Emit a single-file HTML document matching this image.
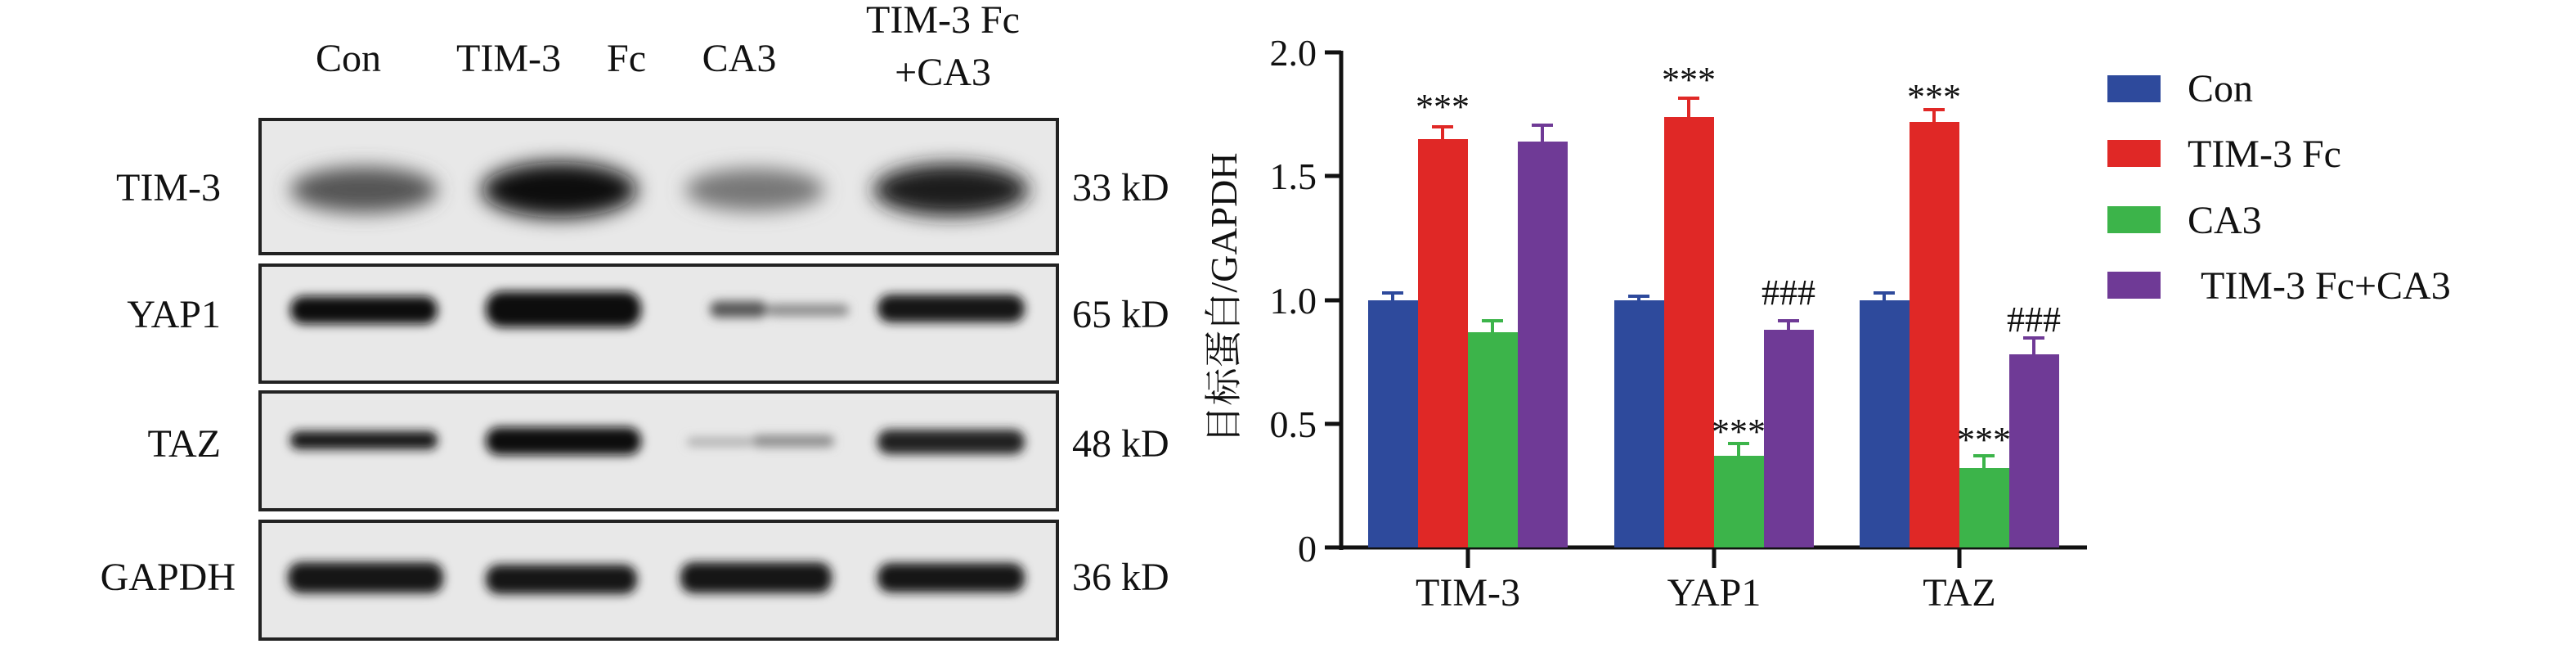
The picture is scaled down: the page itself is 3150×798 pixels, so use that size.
<!DOCTYPE html>
<html><head><meta charset="utf-8"><style>
html,body{margin:0;padding:0;background:#fff;}
svg{display:block;}
text{font-family:"Liberation Serif","Noto Serif CJK SC",serif;fill:#111;}
</style></head><body>
<svg width="3150" height="798" viewBox="0 0 3150 798" xmlns="http://www.w3.org/2000/svg">
<defs>
<filter id="bl" x="-20%" y="-50%" width="140%" height="200%"><feGaussianBlur stdDeviation="6"/></filter>
<filter id="bl2" x="-20%" y="-50%" width="140%" height="200%"><feGaussianBlur stdDeviation="12"/></filter>
</defs>
<g font-size="48" text-anchor="middle">
<text x="426" y="87">Con</text>
<text x="622" y="87">TIM-3</text>
<text x="766" y="87">Fc</text>
<text x="904" y="87">CA3</text>
<text x="1153" y="40">TIM-3 Fc</text>
<text x="1153" y="104">+CA3</text>
</g>
<g font-size="48" text-anchor="end">
<text x="270" y="245">TIM-3</text>
<text x="270" y="400">YAP1</text>
<text x="270" y="558">TAZ</text>
<text x="288" y="721">GAPDH</text>
</g>
<g font-size="48">
<text x="1311" y="245">33 kD</text>
<text x="1311" y="400">65 kD</text>
<text x="1311" y="558">48 kD</text>
<text x="1311" y="721">36 kD</text>
</g>
<!-- blot boxes -->
<g fill="#e8e8e8" stroke="#222" stroke-width="4">
<rect x="318" y="146" width="975" height="164"/>
<rect x="318" y="324" width="975" height="143"/>
<rect x="318" y="479" width="975" height="144"/>
<rect x="318" y="637" width="975" height="144"/>
</g>
<!-- TIM-3 bands -->
<g filter="url(#bl2)">
<ellipse cx="445" cy="232" rx="90" ry="28" fill="#555"/>
<ellipse cx="684" cy="232" rx="95" ry="34" fill="#111"/>
<ellipse cx="923" cy="232" rx="85" ry="26" fill="#777"/>
<ellipse cx="1163" cy="232" rx="95" ry="32" fill="#1a1a1a"/>
</g>
<g filter="url(#bl)">
<rect x="355" y="362" width="180" height="34" rx="16" fill="#111"/>
<rect x="594" y="356" width="190" height="44" rx="20" fill="#0a0a0a"/>
<rect x="868" y="368" width="70" height="20" rx="10" fill="#555"/>
<rect x="938" y="372" width="100" height="14" rx="7" fill="#888"/>
<rect x="1073" y="360" width="180" height="34" rx="16" fill="#151515"/>
<rect x="355" y="527" width="180" height="22" rx="10" fill="#151515"/>
<rect x="594" y="522" width="190" height="34" rx="16" fill="#0a0a0a"/>
<rect x="840" y="535" width="80" height="10" rx="5" fill="#aaa"/>
<rect x="920" y="532" width="100" height="14" rx="7" fill="#888"/>
<rect x="1073" y="525" width="180" height="30" rx="14" fill="#202020"/>
<rect x="352" y="687" width="190" height="38" rx="16" fill="#151515"/>
<rect x="594" y="690" width="185" height="36" rx="16" fill="#151515"/>
<rect x="832" y="687" width="185" height="38" rx="16" fill="#151515"/>
<rect x="1073" y="688" width="180" height="36" rx="16" fill="#181818"/>
</g>
<!-- chart -->
<text transform="translate(1512,364) rotate(-90)" font-size="46" text-anchor="middle" font-family="Liberation Serif, Noto Serif CJK SC, serif">目标蛋白/GAPDH</text>
<g font-size="46" text-anchor="end">
<text x="1610" y="80">2.0</text>
<text x="1610" y="231">1.5</text>
<text x="1610" y="383">1.0</text>
<text x="1610" y="534">0.5</text>
<text x="1610" y="686">0</text>
</g>
<g stroke="#111" stroke-width="5">
<line x1="1640" y1="62" x2="1640" y2="672"/>
<line x1="1620" y1="64" x2="1640" y2="64"/>
<line x1="1620" y1="215" x2="1640" y2="215"/>
<line x1="1620" y1="367" x2="1640" y2="367"/>
<line x1="1620" y1="518" x2="1640" y2="518"/>
<line x1="1620" y1="669" x2="1640" y2="669"/>
<line x1="1638" y1="669" x2="2552" y2="669"/>
<line x1="1795" y1="669" x2="1795" y2="694"/>
<line x1="2096" y1="669" x2="2096" y2="694"/>
<line x1="2396" y1="669" x2="2396" y2="694"/>
</g>
<g font-size="48" text-anchor="middle">
<text x="1795" y="740">TIM-3</text>
<text x="2096" y="740">YAP1</text>
<text x="2396" y="740">TAZ</text>
</g>
<!-- bars: y = 669 - v*302.5 -->
<g>
<!-- TIM-3 -->
<rect x="1673" y="367" width="61" height="302" fill="#2e4a9c"/>
<rect x="1734" y="170" width="61" height="499" fill="#e02826"/>
<rect x="1795" y="406" width="61" height="263" fill="#3cb44a"/>
<rect x="1856" y="173" width="61" height="496" fill="#6f3a96"/>
<!-- YAP1 -->
<rect x="1974" y="367" width="61" height="302" fill="#2e4a9c"/>
<rect x="2035" y="143" width="61" height="526" fill="#e02826"/>
<rect x="2096" y="557" width="61" height="112" fill="#3cb44a"/>
<rect x="2157" y="403" width="61" height="266" fill="#6f3a96"/>
<!-- TAZ -->
<rect x="2274" y="367" width="61" height="302" fill="#2e4a9c"/>
<rect x="2335" y="149" width="61" height="520" fill="#e02826"/>
<rect x="2396" y="572" width="61" height="97" fill="#3cb44a"/>
<rect x="2457" y="433" width="61" height="236" fill="#6f3a96"/>
</g>
<g stroke-width="4">
<g stroke="#2e4a9c"><path d="M1703 367V358M1690 358H1716M2004 367V362M1991 362H2017M2304 367V358M2291 358H2317"/></g>
<g stroke="#e02826"><path d="M1764 170V155M1751 155H1777M2065 143V120M2052 120H2078M2365 149V134M2352 134H2378"/></g>
<g stroke="#3cb44a"><path d="M1825 406V392M1812 392H1838M2126 557V542M2113 542H2139M2426 572V557M2413 557H2439"/></g>
<g stroke="#6f3a96"><path d="M1886 173V153M1873 153H1899M2187 403V392M2174 392H2200M2487 433V413M2474 413H2500"/></g>
</g>
<g font-size="44" text-anchor="middle">
<text x="1764" y="145">***</text>
<text x="2065" y="112">***</text>
<text x="2365" y="133">***</text>
<text x="2126" y="542">***</text>
<text x="2426" y="552">***</text>
<text x="2187" y="372">###</text>
<text x="2487" y="405">###</text>
</g>
<!-- legend -->
<rect x="2577" y="92" width="65" height="33" fill="#2e4a9c"/>
<rect x="2577" y="171" width="65" height="33" fill="#e02826"/>
<rect x="2577" y="252" width="65" height="33" fill="#3cb44a"/>
<rect x="2577" y="332" width="65" height="33" fill="#6f3a96"/>
<g font-size="48">
<text x="2675" y="124">Con</text>
<text x="2675" y="204">TIM-3 Fc</text>
<text x="2675" y="285">CA3</text>
<text x="2691" y="365">TIM-3 Fc+CA3</text>
</g>
</svg>
</body></html>
